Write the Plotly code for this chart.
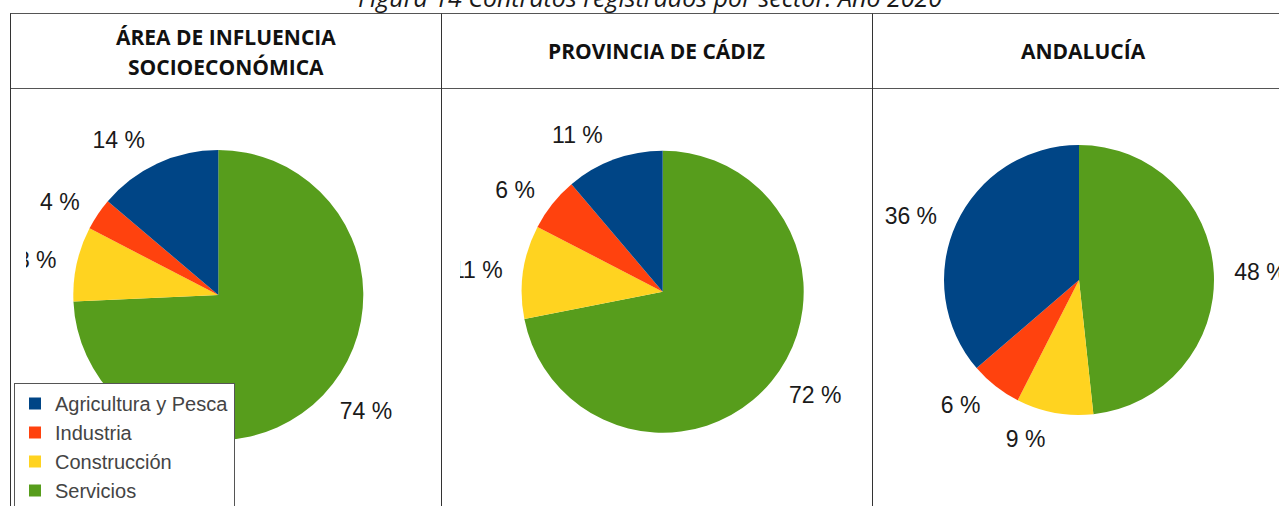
import plotly.graph_objects as go

W, H = 1279, 506

# ---- data ----
sectores = ["Agricultura y Pesca", "Industria", "Construcción", "Servicios"]
colores = ["#004586", "#ff420e", "#ffd320", "#579d1c"]
area_influencia = [13.8, 3.6, 8.3, 74.3]
provincia_cadiz = [11.2, 6.2, 10.7, 71.9]
andalucia = [36.3, 6.2, 9.2, 48.3]
cabeceras = [["ÁREA DE INFLUENCIA", "SOCIOECONÓMICA"], ["PROVINCIA DE CÁDIZ"], ["ANDALUCÍA"]]
titulo = "Figura 14 Contratos registrados por sector. Año 2020"


def px(x):
    return x / W


def py(y):
    return 1 - y / H


# pie boxes in pixels: (left, right, top, bottom)
boxes = [
    (73.3, 363.3, 150, 440),
    (521.7, 803.7, 150.7, 432.7),
    (944, 1214, 145, 415),
]
series = [area_influencia, provincia_cadiz, andalucia]
LABEL_GAP = 14  # extra distance (px) between pie edge and its outside labels

fig = go.Figure()
for i, (vals, b) in enumerate(zip(series, boxes)):
    common = dict(
        labels=sectores[::-1],
        values=vals[::-1],
        sort=False,
        direction="clockwise",
        rotation=0,
    )
    # label carrier: same slices, transparent, slightly larger radius
    fig.add_trace(go.Pie(
        **common,
        marker=dict(colors=["rgba(0,0,0,0)"] * len(vals), line=dict(width=0)),
        textposition="outside",
        texttemplate="%{value:.0f} %",
        textfont=dict(family="Liberation Sans", size=23, color="#1a1a1a"),
        domain=dict(x=[px(b[0] - LABEL_GAP), px(b[1] + LABEL_GAP)],
                    y=[py(b[3] + LABEL_GAP), py(b[2] - LABEL_GAP)]),
        showlegend=False,
        hoverinfo="skip",
    ))
    # visible pie
    fig.add_trace(go.Pie(
        **common,
        marker=dict(colors=colores[::-1], line=dict(width=0)),
        textinfo="none",
        domain=dict(x=[px(b[0]), px(b[1])], y=[py(b[3]), py(b[2])]),
        showlegend=(i == 0),
        hoverinfo="label+value",
    ))

shapes = []
# white rectangles mimicking the image clipping inside the cells
for x0, x1 in [(11, 26), (442, 460)]:
    shapes.append(dict(type="rect", xref="paper", yref="paper",
                       x0=px(x0), x1=px(x1), y0=py(300), y1=py(95),
                       fillcolor="white", line=dict(width=0), layer="above"))
# table lines
hline = dict(color="#555555", width=1)
vline = dict(color="#333333", width=1)
for yv in [13.5, 88.5]:
    shapes.append(dict(type="line", xref="paper", yref="paper", x0=px(10), x1=1,
                       y0=py(yv), y1=py(yv), line=hline, layer="above"))
for xv in [10.5, 441.5, 872.5]:
    shapes.append(dict(type="line", xref="paper", yref="paper", x0=px(xv), x1=px(xv),
                       y0=0, y1=py(13.5), line=vline, layer="above"))

annotations = [
    dict(text=titulo, x=px(650), y=py(16), xref="paper", yref="paper",
         xanchor="center", yanchor="bottom", showarrow=False,
         font=dict(family="Open Sans", size=25, color="#1a1a1a", style="italic")),
]
centros_x = [226, 656.5, 1083]
for lines, cx in zip(cabeceras, centros_x):
    ys = [51] if len(lines) == 1 else [37, 67]
    for t, yy in zip(lines, ys):
        annotations.append(dict(text=t, x=px(cx), y=py(yy), xref="paper", yref="paper",
                                xanchor="center", yanchor="middle", showarrow=False,
                                font=dict(family="Open Sans", size=21, color="#111111",
                                          weight="bold")))

fig.update_layout(
    width=W, height=H,
    margin=dict(l=0, r=0, t=0, b=0, autoexpand=False),
    paper_bgcolor="white",
    plot_bgcolor="white",
    shapes=shapes,
    annotations=annotations,
    legend=dict(x=px(14), y=py(383), xanchor="left", yanchor="top",
                bgcolor="white", bordercolor="#555555", borderwidth=1,
                font=dict(family="Liberation Sans", size=20, color="#444444"),
                itemwidth=30, tracegroupgap=0, traceorder="reversed"),
)

fig.write_html("out.html", config={"displayModeBar": False},
               post_script="document.body.style.margin='0px';")
